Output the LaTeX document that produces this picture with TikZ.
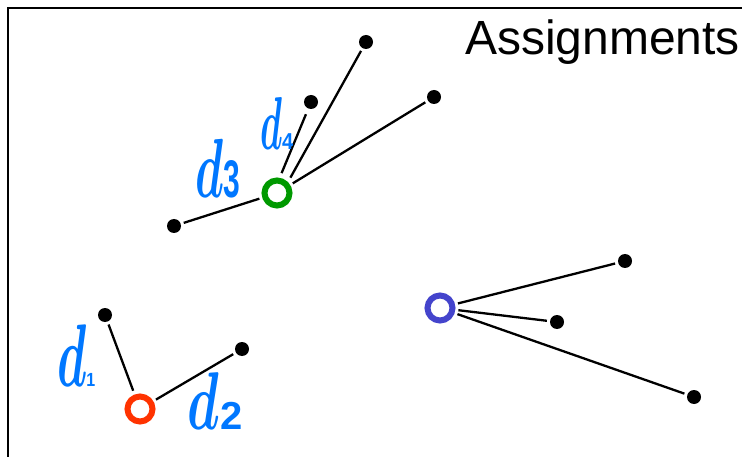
\documentclass[tikz,border=0pt]{standalone}
\usepackage{fontspec}
\setmainfont{Liberation Sans}
\newcommand\hwd[2]{\scalebox{#1}[#2]{\boldmath$d$}}
\newcommand\hwn[3]{\scalebox{#1}[#2]{$\mathbf{#3}$}}
\begin{document}
\begin{tikzpicture}[x=1pt,y=-1pt,
  pt/.style={circle,fill=black,inner sep=0pt,minimum size=14pt},
  ctr/.style={circle,draw=#1,line width=6pt,fill=white,inner sep=0pt,minimum size=25pt},
  lnk/.style={line width=2.3pt,shorten <=3pt,shorten >=3pt},
  lab/.style={text=labblue,inner sep=0pt,anchor=south west}]
\definecolor{labblue}{RGB}{0,119,255}
\definecolor{cgreen}{RGB}{0,153,0}
\definecolor{cred}{RGB}{255,51,0}
\definecolor{cblue}{RGB}{68,68,204}
\useasboundingbox (0,0) rectangle (742,457);
\draw[line width=1.6pt] (8,470) -- (8,8) -- (760,8);
\node[anchor=base west,font=\fontsize{48}{50}\selectfont,inner sep=0pt] (title) at (465,55) {Assignments};
% green cluster
\node[ctr=cgreen] (g) at (277,193) {};
\node[pt] (g1) at (366,42) {};
\node[pt] (g2) at (311,102) {};
\node[pt] (g3) at (434,97) {};
\node[pt] (g4) at (174,226) {};
\draw[lnk,shorten <=5pt] (g.45) -- (g1);
\draw[lnk,shorten <=5pt,shorten >=6pt] (g.80) -- (g2);
\draw[lnk] (g) -- (g3);
\draw[lnk] (g) -- (g4);
% blue cluster
\node[ctr=cblue] (b) at (440,308) {};
\node[pt] (b1) at (625,261) {};
\node[pt] (b2) at (557,322) {};
\node[pt] (b3) at (694,397) {};
\draw[lnk] (b) -- (b1);
\draw[lnk] (b) -- (b2);
\draw[lnk] (b) -- (b3);
% red cluster
\node[ctr=cred] (r) at (140,409) {};
\node[pt] (r1) at (105,315) {};
\node[pt] (r2) at (242,349) {};
\draw[lnk,shorten <=4pt] (r) -- (r1);
\draw[lnk] (r) -- (r2);
% labels
\node[lab] (l1) at (57,387) {\hwd{4.8}{8.9}\hwn{1.6}{1.9}{1}};
\node[lab] (l2) at (187,430) {\hwd{5.2}{8.2}\,\hwn{4}{3.9}{2}};
\node[lab] (l3) at (195,198) {\hwd{4.6}{8.4}\hwn{3}{5.3}{3}};
\node[lab] (l4) at (260,150) {\hwd{3.6}{7.5}\hwn{2}{2.3}{4}};
\end{tikzpicture}
\end{document}
